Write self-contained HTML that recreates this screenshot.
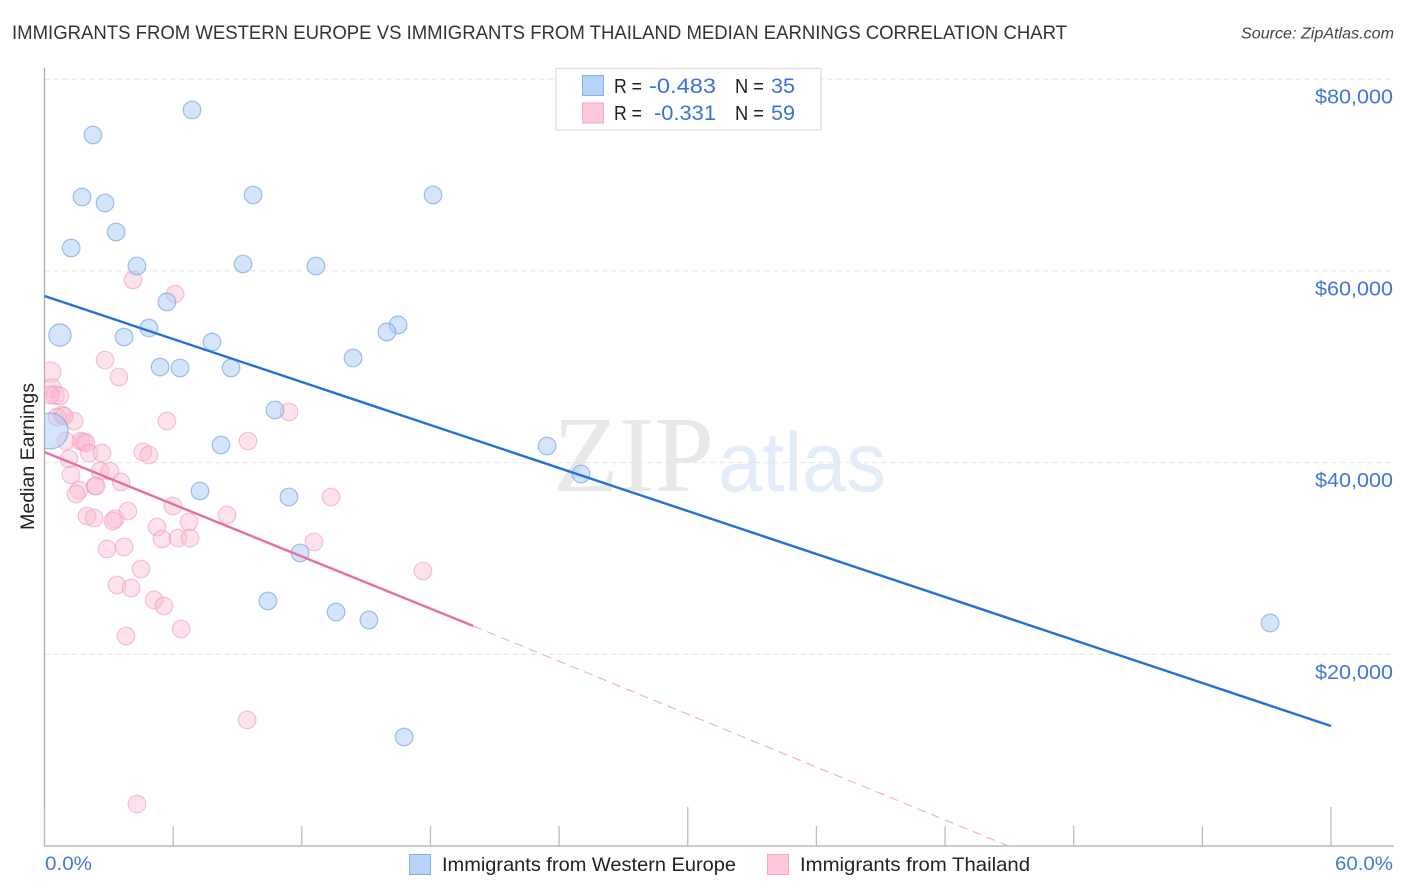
<!DOCTYPE html>
<html lang="en">
<head>
<meta charset="utf-8">
<title>Immigrants from Western Europe vs Immigrants from Thailand Median Earnings Correlation Chart</title>
<style>
html,body{margin:0;padding:0;background:#fff;width:1406px;height:892px;overflow:hidden}
svg{display:block;font-family:"Liberation Sans",sans-serif}
</style>
</head>
<body>
<svg id="chart" xmlns="http://www.w3.org/2000/svg" width="1406" height="892" viewBox="0 0 1406 892">
  <defs>
    <clipPath id="plot-clip"><rect x="44.5" y="60" width="1350" height="786"/></clipPath>
  </defs>
  <text x="12" y="39" font-size="19" fill="#333" textLength="1055" lengthAdjust="spacingAndGlyphs">IMMIGRANTS FROM WESTERN EUROPE VS IMMIGRANTS FROM THAILAND MEDIAN EARNINGS CORRELATION CHART</text>
  <text x="1241" y="38.5" font-size="15.5" font-style="italic" fill="#444" textLength="153" lengthAdjust="spacingAndGlyphs">Source: ZipAtlas.com</text>

  <g>
    <text x="553" y="491" font-family="'Liberation Serif',serif" font-size="108" fill="#e8e8e8" textLength="161" lengthAdjust="spacingAndGlyphs">ZIP</text>
    <text x="718" y="491" font-size="84" fill="#e3ecf9" textLength="168" lengthAdjust="spacingAndGlyphs">atlas</text>
  </g>

  <g id="grid"></g>
  <g id="axes"></g>
  <g id="points-pink" clip-path="url(#plot-clip)"></g>
  <g id="points-blue" clip-path="url(#plot-clip)"></g>
  <g id="trends"></g>

  <text transform="translate(34 456.5) rotate(-90)" font-size="19" fill="#222" text-anchor="middle" textLength="147" lengthAdjust="spacingAndGlyphs">Median Earnings</text>

  <g>
    <rect x="556" y="68.5" width="265" height="61.5" fill="#fff" stroke="#ddd" stroke-width="1.2"/>
    <rect x="582.5" y="75.5" width="21" height="20" fill="#b7d3f8" stroke="#83aee6"/>
    <rect x="582.5" y="103" width="21" height="20" fill="#fdc7d9" stroke="#f5abc3"/>
    <text x="614" y="93" font-size="20" fill="#222" textLength="28" lengthAdjust="spacingAndGlyphs">R =</text>
    <text x="649" y="93" font-size="21" fill="#3a73d2" textLength="67" lengthAdjust="spacingAndGlyphs">-0.483</text>
    <text x="735" y="93" font-size="20" fill="#222" textLength="29" lengthAdjust="spacingAndGlyphs">N =</text>
    <text x="771" y="93" font-size="21" fill="#3a73d2" textLength="24" lengthAdjust="spacingAndGlyphs">35</text>
    <text x="614" y="120" font-size="20" fill="#222" textLength="28" lengthAdjust="spacingAndGlyphs">R =</text>
    <text x="654" y="120" font-size="21" fill="#3a73d2" textLength="62" lengthAdjust="spacingAndGlyphs">-0.331</text>
    <text x="735" y="120" font-size="20" fill="#222" textLength="29" lengthAdjust="spacingAndGlyphs">N =</text>
    <text x="771" y="120" font-size="21" fill="#3a73d2" textLength="24" lengthAdjust="spacingAndGlyphs">59</text>
  </g>

  <g>
    <rect x="409.5" y="854.5" width="21" height="20" fill="#b7d3f8" stroke="#83aee6"/>
    <text x="442" y="871" font-size="19.5" fill="#222" textLength="294" lengthAdjust="spacingAndGlyphs">Immigrants from Western Europe</text>
    <rect x="767.5" y="854.5" width="21" height="20" fill="#fdc7d9" stroke="#f5abc3"/>
    <text x="800" y="871" font-size="19.5" fill="#222" textLength="230" lengthAdjust="spacingAndGlyphs">Immigrants from Thailand</text>
  </g>
</svg>
<script>
const yTickValues = [20000, 40000, 60000, 80000];
const yTickLabels = ["$20,000", "$40,000", "$60,000", "$80,000"];
const xTickValues = [0, 6, 12, 18, 24, 30, 36, 42, 48, 54, 60];
const xEndLabels = ["0.0%", "60.0%"];

const blueX = [6.88, 2.26, 1.75, 2.82, 9.73, 18.12, 3.34, 1.24, 4.31, 9.26, 12.66, 5.71, 0.72, 4.87, 3.71, 7.81, 16.49, 15.97, 14.39, 5.39, 6.32, 8.70, 10.75, 23.44, 8.23, 25.02, 7.25, 11.40, 11.92, 10.42, 13.60, 15.13, 57.16, 16.77, 0.26];
const blueY = [76790, 74180, 67710, 67080, 67920, 67920, 64060, 62390, 60510, 60720, 60510, 56760, 53310, 54040, 53100, 52580, 54360, 53630, 50910, 49970, 49870, 49870, 45490, 41730, 41840, 38810, 37040, 36410, 30570, 25560, 24410, 23580, 23270, 11370, 43300];
const blueWeight = [1, 1, 1, 1, 1, 1, 1, 1, 1, 1, 1, 1, 1.6, 1, 1, 1, 1, 1, 1, 1, 1, 1, 1, 1, 1, 1, 1, 1, 1, 1, 1, 1, 1, 1, 4.2];

const pinkX = [4.13, 6.09, 2.82, 3.47, 0.30, 0.35, 0.49, 0.72, 0.82, 0.58, 1.38, 5.71, 11.40, 9.49, 1.00, 1.70, 1.84, 1.94, 2.08, 2.68, 4.59, 4.87, 1.14, 1.24, 2.59, 3.05, 3.57, 1.61, 1.47, 2.36, 2.40, 13.36, 5.99, 3.89, 8.51, 1.98, 2.31, 3.29, 3.19, 6.74, 5.25, 5.48, 6.23, 6.79, 12.57, 3.71, 2.92, 4.50, 17.65, 3.38, 4.04, 5.11, 5.57, 6.37, 3.80, 9.45, 4.31, 0.26, 0.92];
const pinkY = [59050, 57590, 50700, 48930, 49450, 47780, 47050, 46950, 44970, 44760, 44340, 44340, 45280, 42250, 42250, 42250, 42150, 42050, 41000, 41000, 41110, 40790, 40380, 38710, 39120, 39120, 37980, 37140, 36720, 37560, 37560, 36410, 35470, 34950, 34530, 34430, 34220, 34120, 33910, 33800, 33280, 32030, 32130, 32130, 31720, 31200, 30990, 28900, 28690, 27230, 26920, 25670, 25040, 22640, 21910, 13150, 4380, 47050, 44860];
const pinkWeight = [1, 1, 1, 1, 1.3, 1.1, 1.1, 1, 1, 1, 1, 1, 1, 1, 1, 1, 1, 1, 1, 1, 1, 1, 1, 1, 1, 1, 1, 1, 1, 1, 1, 1, 1, 1, 1, 1, 1, 1, 1, 1, 1, 1, 1, 1, 1, 1, 1, 1, 1, 1, 1, 1, 1, 1, 1, 1, 1, 1, 1];

const blueTrendX = [0, 60];
const blueTrendY = [57380, 12520];
const pinkTrendX = [0, 20];
const pinkTrendY = [41100, 22950];
const pinkDashX = [20, 44.95];
const pinkDashY = [22950, 0];

const SVGNS = "http://www.w3.org/2000/svg";
function xScale(v) { return 44.5 + (v / 60) * 1286.5; }
function yScale(v) { return 846 - v * 0.009585; }
function make(tag, attrs, parent) {
  const el = document.createElementNS(SVGNS, tag);
  for (const k in attrs) el.setAttribute(k, attrs[k]);
  parent.appendChild(el);
  return el;
}
const gridG = document.getElementById("grid");
const axesG = document.getElementById("axes");
const blueG = document.getElementById("points-blue");
const pinkG = document.getElementById("points-pink");
const trendG = document.getElementById("trends");

yTickValues.forEach(function (v, i) {
  const line = make("line", {x1: 44.5, x2: 1394, y1: yScale(v), y2: yScale(v), stroke: "#e2e2e2", "stroke-width": 1, "stroke-dasharray": "5 4"}, gridG);
  
  
  const label = make("text", {x: 1393, y: yScale(v) + 24.5, "font-size": 20, fill: "#4279d6", "text-anchor": "end", textLength: 78, lengthAdjust: "spacingAndGlyphs"}, axesG);
  label.textContent = yTickLabels[i];
  
  
});

const yAxis = make("line", {x1: 44.5, x2: 44.5, y1: 68, y2: 846.5, stroke: "#aaa", "stroke-width": 1.3}, axesG);


const xAxis = make("line", {x1: 44, x2: 1394, y1: 846, y2: 846, stroke: "#aaa", "stroke-width": 1.3}, axesG);



xTickValues.forEach(function (v, i) {
  const tall = i % 5 === 0;
  const tick = make("line", {x1: xScale(v), x2: xScale(v), y1: tall ? 807 : 826, y2: 846, stroke: "#bbb", "stroke-width": 1.3}, axesG);
  
  
});

const xLabelLeft = make("text", {x: 45, y: 870, "font-size": 19.5, fill: "#4279d6", textLength: 47, lengthAdjust: "spacingAndGlyphs"}, axesG);
xLabelLeft.textContent = xEndLabels[0];


const xLabelRight = make("text", {x: 1393, y: 870, "font-size": 19.5, fill: "#4279d6", "text-anchor": "end", textLength: 58, lengthAdjust: "spacingAndGlyphs"}, axesG);
xLabelRight.textContent = xEndLabels[1];



pinkX.forEach(function (v, i) {
  const c = make("circle", {cx: xScale(v), cy: yScale(pinkY[i]), r: 8.8 * Math.sqrt(pinkWeight[i]), fill: "rgba(250,185,207,0.42)", stroke: "rgba(240,150,182,0.55)", "stroke-width": 1.2}, pinkG);
  
  
});
blueX.forEach(function (v, i) {
  const c = make("circle", {cx: xScale(v), cy: yScale(blueY[i]), r: 8.8 * Math.sqrt(blueWeight[i]), fill: "rgba(170,203,245,0.5)", stroke: "rgba(110,158,228,0.65)", "stroke-width": 1.2}, blueG);
  
  
});

const blueLine = make("line", {x1: xScale(blueTrendX[0]), y1: yScale(blueTrendY[0]), x2: xScale(blueTrendX[1]), y2: yScale(blueTrendY[1]), stroke: "#2270dc", "stroke-width": 2.4}, trendG);


const pinkLine = make("line", {x1: xScale(pinkTrendX[0]), y1: yScale(pinkTrendY[0]), x2: xScale(pinkTrendX[1]), y2: yScale(pinkTrendY[1]), stroke: "#e96f9b", "stroke-width": 2.4}, trendG);


const pinkDash = make("line", {x1: xScale(pinkDashX[0]), y1: yScale(pinkDashY[0]), x2: xScale(pinkDashX[1]), y2: yScale(pinkDashY[1]), stroke: "#f0a3bf", "stroke-width": 1, "stroke-dasharray": "9 6"}, trendG);


</script>
</body>
</html>
